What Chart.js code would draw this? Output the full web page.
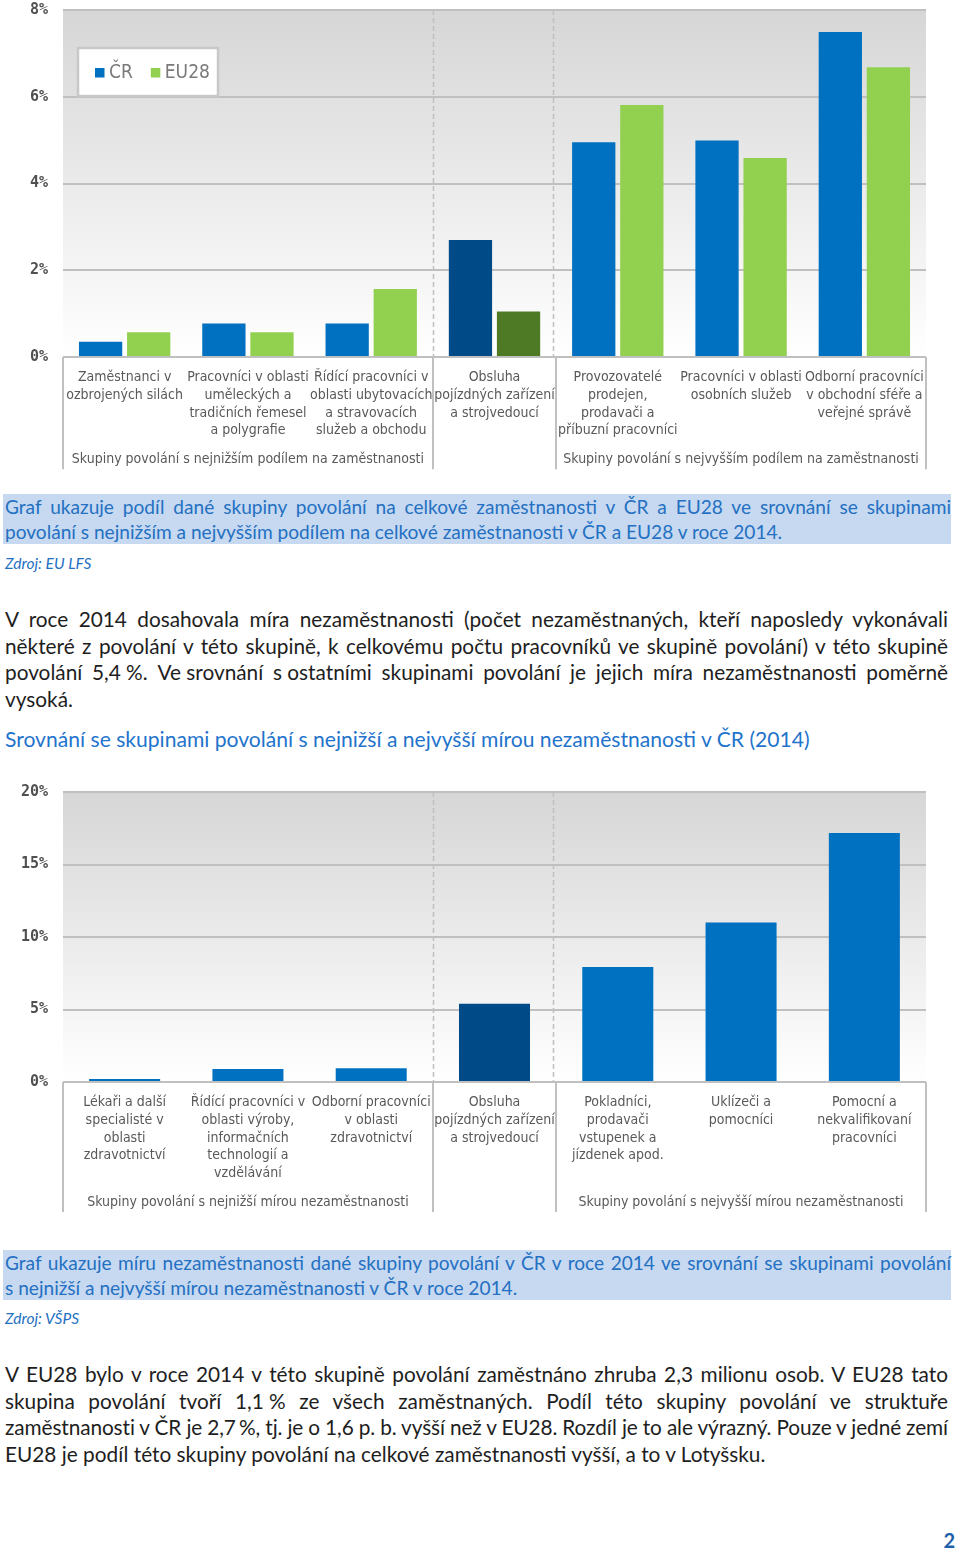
<!DOCTYPE html>
<html lang="cs">
<head>
<meta charset="utf-8">
<title>Skupiny povolání</title>
<script src="https://cdn.jsdelivr.net/npm/chart.js@4.4.1/dist/chart.umd.min.js"></script>
<style>
  html, body { margin: 0; padding: 0; background: #fff; }
  body { position: relative; width: 960px; height: 1551px; overflow: hidden; font-family: Lato, "Liberation Sans", sans-serif; color: #1e1e1e; }
  canvas { position: absolute; left: 0; }
  #chart1 { top: 0; }
  #chart2 { top: 770px; }
  .caption { position: absolute; left: 3px; width: 946px; height: 50px; padding-left: 2px; background: #c6d9f1; color: #2470c2; font-size: 19.1px; line-height: 25px; }
  .source { position: absolute; left: 5px; font-style: italic; color: #2470c2; font-size: 15.5px; line-height: 20px; }
  .para { position: absolute; left: 5px; width: 943px; font-size: 20.8px; line-height: 26.6px; }
  .line { text-align: justify; text-align-last: justify; white-space: nowrap; }
  .line.last { text-align-last: left; }
  .line.tight { word-spacing: -2px; letter-spacing: -0.1px; }
  .nb { display: inline-block; }
  .heading { position: absolute; left: 5px; top: 725px; color: #1f74cc; font-size: 21.1px; line-height: 28px; white-space: nowrap; }
  .pageno { position: absolute; right: 5px; top: 1528px; color: #1f5fa8; font-weight: bold; font-size: 20px; line-height: 24px; }
</style>
</head>
<body>

<canvas id="chart1" width="960" height="480"></canvas>

<div class="caption" style="top:494px">
  <div class="line">Graf ukazuje podíl dané skupiny povolání na celkové zaměstnanosti v ČR a EU28 ve srovnání se skupinami</div>
  <div class="line last">povolání s nejnižším a nejvyšším podílem na celkové zaměstnanosti v ČR a EU28 v roce 2014.</div>
</div>
<div class="source" style="top:553px">Zdroj: EU LFS</div>

<div class="para" style="top:606px">
  <div class="line">V roce 2014 dosahovala míra nezaměstnanosti (počet nezaměstnaných, kteří naposledy vykonávali</div>
  <div class="line">některé z povolání v této skupině, k celkovému počtu pracovníků ve skupině povolání) v této skupině</div>
  <div class="line">povolání <span class="nb">5,4 %.</span> <span class="nb">Ve srovnání</span> <span class="nb">s ostatními</span> skupinami povolání je jejich míra nezaměstnanosti poměrně</div>
  <div class="line last">vysoká.</div>
</div>

<div class="heading">Srovnání se skupinami povolání s nejnižší a nejvyšší mírou nezaměstnanosti v ČR (2014)</div>

<canvas id="chart2" width="960" height="450"></canvas>

<div class="caption" style="top:1250px">
  <div class="line">Graf ukazuje míru nezaměstnanosti dané skupiny povolání v ČR v roce 2014 ve srovnání se skupinami povolání</div>
  <div class="line last">s nejnižší a nejvyšší mírou nezaměstnanosti v ČR v roce 2014.</div>
</div>
<div class="source" style="top:1308px">Zdroj: VŠPS</div>

<div class="para" style="top:1361px">
  <div class="line">V EU28 bylo v roce 2014 v této skupině povolání zaměstnáno zhruba 2,3 milionu osob. V EU28 tato</div>
  <div class="line">skupina povolání tvoří <span class="nb">1,1 %</span> ze všech zaměstnaných. Podíl této skupiny povolání ve struktuře</div>
  <div class="line tight">zaměstnanosti v ČR je <span class="nb">2,7 %,</span> tj. je o 1,6 p. b. vyšší než v EU28. Rozdíl je to ale výrazný. Pouze v jedné zemí</div>
  <div class="line last">EU28 je podíl této skupiny povolání na celkové zaměstnanosti vyšší, a to v Lotyšsku.</div>
</div>

<div class="pageno">2</div>

<script>
// --- data: podíl na zaměstnanosti (graf 1)
const shareCategories = [
  ['Zaměstnanci v', 'ozbrojených silách'],
  ['Pracovníci v oblasti', 'uměleckých a', 'tradičních řemesel', 'a polygrafie'],
  ['Řídící pracovníci v', 'oblasti ubytovacích', 'a stravovacích', 'služeb a obchodu'],
  ['Obsluha', 'pojízdných zařízení', 'a strojvedoucí'],
  ['Provozovatelé', 'prodejen,', 'prodavači a', 'příbuzní pracovníci'],
  ['Pracovníci v oblasti', 'osobních služeb'],
  ['Odborní pracovníci', 'v obchodní sféře a', 'veřejné správě']
];
const crShare = [0.35, 0.77, 0.77, 2.7, 4.95, 4.99, 7.49];
const eu28Share = [0.57, 0.57, 1.57, 1.05, 5.81, 4.59, 6.68];
const shareTicks = [0, 2, 4, 6, 8];
const shareGroups = ['Skupiny povolání s nejnižším podílem na zaměstnanosti', 'Skupiny povolání s nejvyšším podílem na zaměstnanosti'];

// --- data: míra nezaměstnanosti (graf 2)
const rateCategories = [
  ['Lékaři a další', 'specialisté v', 'oblasti', 'zdravotnictví'],
  ['Řídící pracovníci v', 'oblasti výroby,', 'informačních', 'technologií a', 'vzdělávání'],
  ['Odborní pracovníci', 'v oblasti', 'zdravotnictví'],
  ['Obsluha', 'pojízdných zařízení', 'a strojvedoucí'],
  ['Pokladníci,', 'prodavači', 'vstupenek a', 'jízdenek apod.'],
  ['Uklízeči a', 'pomocníci'],
  ['Pomocní a', 'nekvalifikovaní', 'pracovníci']
];
const crRate = [0.2, 0.9, 0.95, 5.4, 7.93, 11.0, 17.17];
const rateTicks = [0, 5, 10, 15, 20];
const rateGroups = ['Skupiny povolání s nejnižší mírou nezaměstnanosti', 'Skupiny povolání s nejvyšší mírou nezaměstnanosti'];

// skupiny kategorií (indexy) a zvýrazněná skupina
const groupRanges = [[0, 2], [4, 6]];
const highlightIndex = 3;

const labelFont = "'DejaVu Sans Condensed', 'DejaVu Sans', sans-serif";
const labelColor = '#595959';
const lineColor = '#c0c0c0';

function colorsFor(n, base, dark) {
  return Array.from({ length: n }, (_, i) => i === highlightIndex ? dark : base);
}

// pozadí plochy grafu s přechodem šedá -> bílá
const plotBackground = {
  id: 'plotBackground',
  beforeDraw(chart) {
    const { ctx, chartArea: a } = chart;
    const g = ctx.createLinearGradient(0, a.top, 0, a.bottom);
    g.addColorStop(0, '#d6d6d6');
    g.addColorStop(1, '#ffffff');
    ctx.save();
    ctx.fillStyle = g;
    ctx.fillRect(a.left, a.top, a.right - a.left, a.bottom - a.top);
    ctx.restore();
  }
};

// skupinové popisky pod osou x, závorky a přerušované čáry
const groupAxis = {
  id: 'groupAxis',
  afterDraw(chart, args, opts) {
    const { ctx, chartArea: a } = chart;
    const x = chart.scales.x;
    const n = chart.data.labels.length;
    const step = (x.right - x.left) / n;
    const edge = i => x.left + i * step;
    const maxLines = Math.max(...chart.data.labels.map(l => l.length));
    const labelY = a.bottom + 22 + 17.6 * (maxLines - 1) + 27.5;

    ctx.save();
    ctx.strokeStyle = lineColor;

    // přerušované čáry kolem zvýrazněné skupiny
    ctx.lineWidth = 1.5;
    ctx.setLineDash([5, 3]);
    [edge(highlightIndex), edge(highlightIndex + 1) - 3].forEach(px => {
      ctx.beginPath();
      ctx.moveTo(Math.round(px) + 0.5, a.top);
      ctx.lineTo(Math.round(px) + 0.5, a.bottom);
      ctx.stroke();
    });

    // závorky
    ctx.setLineDash([]);
    ctx.lineWidth = 2;
    groupRanges.forEach(([s, e]) => {
      [edge(s), edge(e + 1)].forEach(px => {
        ctx.beginPath();
        ctx.moveTo(Math.round(px), a.bottom);
        ctx.lineTo(Math.round(px), labelY + 10);
        ctx.stroke();
      });
    });

    ctx.fillStyle = labelColor;
    ctx.font = '14px ' + labelFont;
    ctx.textAlign = 'center';
    ctx.textBaseline = 'middle';
    groupRanges.forEach(([s, e], k) => {
      ctx.fillText(opts.labels[k], (edge(s) + edge(e + 1)) / 2, labelY);
    });
    ctx.restore();
  }
};

// legenda uvnitř plochy grafu
const boxLegend = {
  id: 'boxLegend',
  afterDatasetsDraw(chart, args, opts) {
    if (!opts.show) return;
    const { ctx, chartArea: a } = chart;
    const x0 = a.left + 15, y0 = a.top + 38;
    ctx.save();
    ctx.fillStyle = '#ffffff';
    ctx.fillRect(x0, y0, 140, 48);
    ctx.strokeStyle = '#c8c8c8';
    ctx.lineWidth = 2.5;
    ctx.strokeRect(x0, y0, 140, 48);
    ctx.font = '19px ' + labelFont;
    ctx.textBaseline = 'middle';
    let cx = x0 + 17;
    chart.data.datasets.forEach(ds => {
      ctx.fillStyle = ds.legendColor;
      ctx.fillRect(cx, y0 + 20, 9.5, 9.5);
      ctx.fillStyle = '#7a7a7a';
      ctx.fillText(ds.label, cx + 14, y0 + 25);
      cx += 14 + ctx.measureText(ds.label).width + 18;
    });
    ctx.restore();
  }
};

function baseOptions(ticks, xHeight, padTop, catPct, barPct, groups, legend) {
  return {
    responsive: false,
    animation: false,
    layout: { padding: { top: padTop, right: 34, left: 0, bottom: 0 } },
    datasets: { bar: { categoryPercentage: catPct, barPercentage: barPct } },
    scales: {
      x: {
        grid: { display: false, drawTicks: false },
        border: { display: false },
        ticks: {
          color: labelColor,
          font: { family: labelFont, size: 14, lineHeight: 1.26 },
          padding: 12,
          maxRotation: 0,
          autoSkip: false
        },
        afterFit(scale) { scale.height = xHeight; }
      },
      y: {
        min: ticks[0],
        max: ticks[ticks.length - 1],
        grid: { color: lineColor, lineWidth: 2, drawTicks: false },
        border: { display: false },
        afterBuildTicks(scale) { scale.ticks = ticks.map(v => ({ value: v })); },
        ticks: {
          color: '#505050',
          font: { family: "'DejaVu Sans Mono', monospace", size: 15, weight: 'bold' },
          padding: 15,
          callback: v => v + '%'
        },
        afterFit(scale) {
          scale.width = 63;
          scale.paddingTop = 0;
          scale.paddingBottom = 0;
        }
      }
    },
    plugins: {
      legend: { display: false },
      tooltip: { enabled: false },
      groupAxis: { labels: groups },
      boxLegend: { show: legend }
    }
  };
}

Chart.register(plotBackground, groupAxis, boxLegend);

new Chart(document.getElementById('chart1'), {
  type: 'bar',
  data: {
    labels: shareCategories,
    datasets: [
      { label: 'ČR', data: crShare, legendColor: '#0070c0',
        backgroundColor: colorsFor(crShare.length, '#0070c0', '#004b87') },
      { label: 'EU28', data: eu28Share, legendColor: '#92d050',
        backgroundColor: colorsFor(eu28Share.length, '#92d050', '#4e7a26') }
    ]
  },
  options: baseOptions(shareTicks, 123, 10, 0.78, 0.9, shareGroups, true)
});

new Chart(document.getElementById('chart2'), {
  type: 'bar',
  data: {
    labels: rateCategories,
    datasets: [
      { label: 'ČR', data: crRate, legendColor: '#0070c0',
        backgroundColor: colorsFor(crRate.length, '#0070c0', '#004b87') }
    ]
  },
  options: baseOptions(rateTicks, 138, 22, 0.64, 0.9, rateGroups, false)
});
</script>
</body>
</html>
